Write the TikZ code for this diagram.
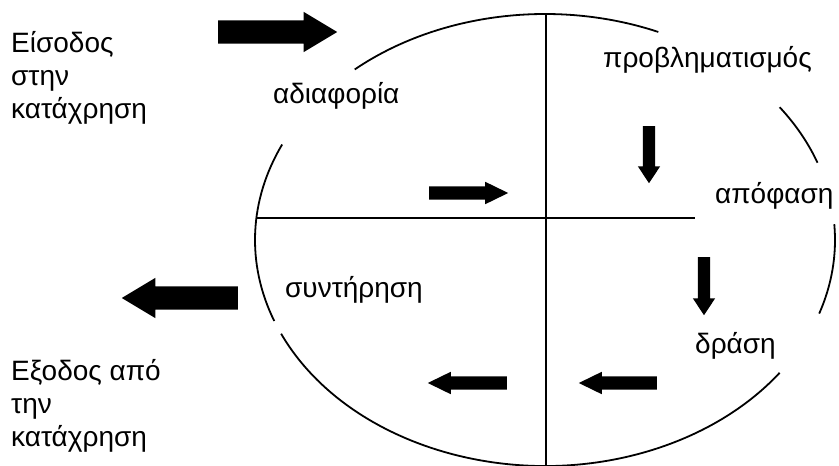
\documentclass[tikz,border=0pt]{standalone}
\usepackage{fontspec}
\setmainfont{Liberation Sans}
\usetikzlibrary{positioning, shapes.arrows, calc}
\definecolor{cyInk}{HTML}{000000}
\tikzset{
    cyLabel/.style={
        inner sep=0pt,
        font=\fontsize{28}{33}\selectfont,
        text=cyInk,
        anchor=base west
    },
    cySide/.style={
        cyLabel,
        align=left,
        anchor=north west
    },
    cyArrowBase/.style={
        single arrow,
        fill=cyInk,
        draw=none,
        inner sep=0pt,
        anchor=tail
    },
    % Arrow sizes
    bigArrow/.style={cyArrowBase, minimum height=#1, inner ysep=11.5pt, single arrow head extend=8.5pt, single arrow tip angle=62},
    smallArrow/.style={cyArrowBase, minimum height=#1, inner ysep=6.5pt, single arrow head extend=4.5pt, single arrow tip angle=52},
    downArrow/.style={cyArrowBase, minimum height=#1, inner xsep=6pt, inner ysep=0pt, single arrow head extend=5pt, single arrow tip angle=67, shape border rotate=270},
    % Outline
    cyCycle/.style={line width=1.8pt, draw=cyInk}
}

\begin{document}
\begin{tikzpicture}[x=1pt, y=-1pt]
\useasboundingbox (0,0) rectangle (839,466);
\coordinate (ctr) at (545,240);
\coordinate (vTop) at (546,14);
\coordinate (vBot) at (546,466);
\coordinate (hLeft) at (256,218);
\coordinate (hRight) at (695,218);

% broken ellipse
\draw[cyCycle] (ctr) ++(67:290pt and 226pt) arc[start angle=67, end angle=131, x radius=290pt, y radius=226pt];
\draw[cyCycle] (ctr) ++(20:290pt and 226pt) arc[start angle=20, end angle=36, x radius=290pt, y radius=226pt];
\draw[cyCycle] (ctr) ++(-19:290pt and 226pt) arc[start angle=-19, end angle=4, x radius=290pt, y radius=226pt];
\draw[cyCycle] (ctr) ++(204.5:290pt and 226pt) arc[start angle=204.5, end angle=324, x radius=290pt, y radius=226pt];
\draw[cyCycle] (ctr) ++(155:290pt and 226pt) arc[start angle=155, end angle=201, x radius=290pt, y radius=226pt];
\draw[cyCycle] (vTop) -- (vBot);
\draw[cyCycle] (hLeft) -- (hRight);

\node[cySide] (entry) at (11,31) {Είσοδος\\στην\\κατάχρηση};
\node[cySide] (exit) at (11,359) {Εξοδος από\\την\\κατάχρηση};
\node[cyLabel] (indiff) at (273,103) {αδιαφορία};
\node[cyLabel] (reflect) at (603,67) {προβληματισμός};
\node[cyLabel] (decide) at (715,203) {απόφαση};
\node[cyLabel] (maint) at (285,297) {συντήρηση};
\node[cyLabel] (act) at (695,353) {δράση};

\node[bigArrow=119pt] (inArrow) at (218,32) {};
\node[bigArrow=116pt, shape border rotate=180] (outArrow) at (238,298) {};
\node[smallArrow=79pt] (toCentre) at (429,193) {};
\node[downArrow=57pt] (toDecide) at (649,126) {};
\node[downArrow=58pt] (toAct) at (704,257) {};
\node[smallArrow=78pt, shape border rotate=180] (fromAct) at (657,383) {};
\node[smallArrow=79pt, shape border rotate=180] (toMaint) at (507,383) {};
\end{tikzpicture}
\end{document}
